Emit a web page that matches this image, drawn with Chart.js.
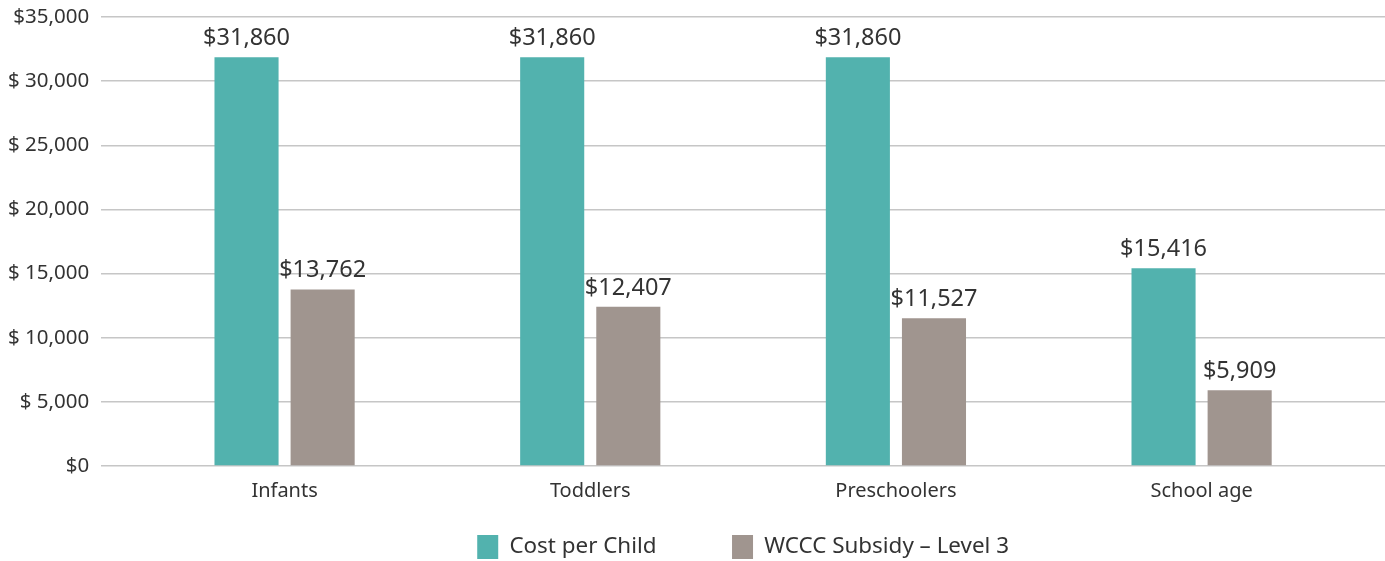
<!DOCTYPE html>
<html>
<head>
<meta charset="utf-8">
<script src="https://cdn.jsdelivr.net/npm/chart.js@4/dist/chart.umd.min.js"></script>
<style>
  html, body { margin: 0; padding: 0; background: #fff; }
  #wrap { width: 1385px; height: 561px; }
</style>
</head>
<body>
<div id="wrap"><canvas id="myChart"></canvas></div>
<script>
// data
const categories = ['Infants', 'Toddlers', 'Preschoolers', 'School age'];
const costPerChild = [31860, 31860, 31860, 15416];
const subsidyLevel3 = [13762, 12407, 11527, 5909];
const seriesNames = ['Cost per Child', 'WCCC Subsidy \u2013 Level 3'];
const yTickValues = [0, 5000, 10000, 15000, 20000, 25000, 30000, 35000];
const yTickLabels = ['$0', '$ 5,000', '$ 10,000', '$ 15,000', '$ 20,000', '$ 25,000', '$ 30,000', '$35,000'];

const teal = '#52b2ae';
const grey = '#a0958f';
const textColor = '#333333';
const fontFamily = '"Noto Sans", Lato, sans-serif';

function points(values) {
    return values.map((v, i) => ({ x: i, y: v }));
}

// value labels above each bar
const barLabels = {
    id: 'barLabels',
    afterDatasetsDraw(chart) {
        const c = chart.ctx;
        c.save();
        c.font = '23.5px ' + fontFamily;
        c.fillStyle = textColor;
        c.textAlign = 'center';
        c.textBaseline = 'bottom';
        chart.data.datasets.forEach((ds, di) => {
            chart.getDatasetMeta(di).data.forEach((bar, i) => {
                c.fillText('$' + ds.data[i].y.toLocaleString('en-US'), bar.x, bar.y - 7);
            });
        });
        c.restore();
    }
};

const ctx = document.getElementById('myChart');

var myChart = new Chart(ctx, {
    type: 'bar',
    data: {
        datasets: [{
            label: seriesNames[0],
            data: points(costPerChild),
            backgroundColor: teal
        }, {
            label: seriesNames[1],
            data: points(subsidyLevel3),
            backgroundColor: grey
        }]
    },
    options: {
        responsive: true,
        maintainAspectRatio: false,
        animation: false,
        barPercentage: 0.842,
        categoryPercentage: 0.498,
        layout: { padding: { top: 17, left: -4, right: 0, bottom: -8 } },
        scales: {
            x: {
                type: 'linear',
                min: -0.6,
                max: 3.6,
                offset: false,
                grid: { display: false },
                border: { display: false },
                afterBuildTicks: scale => {
                    scale.ticks = categories.map((c, i) => ({ value: i }));
                },
                ticks: {
                    color: textColor,
                    font: { family: fontFamily, size: 20 },
                    padding: 5,
                    maxRotation: 0,
                    autoSkip: false,
                    callback: v => categories[v]
                }
            },
            y: {
                min: 0,
                max: 35000,
                afterBuildTicks: scale => {
                    scale.ticks = yTickValues.map(v => ({ value: v }));
                },
                afterFit: scale => {
                    // top edge comes from layout padding only
                    scale.paddingTop = 0;
                    scale.paddingBottom = 0;
                },
                grid: { color: '#c6c6c6', lineWidth: 1.5, drawTicks: false },
                border: { display: false },
                ticks: {
                    color: textColor,
                    font: { family: fontFamily, size: 20.5 },
                    padding: 12,
                    callback: v => yTickLabels[yTickValues.indexOf(v)]
                }
            }
        },
        plugins: {
            tooltip: { enabled: false },
            legend: {
                position: 'bottom',
                fullSize: false,
                labels: {
                    color: textColor,
                    font: { family: fontFamily, size: 22.4 },
                    boxWidth: 21,
                    boxHeight: 24,
                    padding: 27,
                    // widen the gap after the first entry
                    generateLabels: chart => {
                        const items = Chart.defaults.plugins.legend.labels.generateLabels(chart);
                        items[0].text += '\u2003\u2003\u2009';
                        return items;
                    }
                }
            }
        }
    },
    plugins: [barLabels]
});
</script>
</body>
</html>
